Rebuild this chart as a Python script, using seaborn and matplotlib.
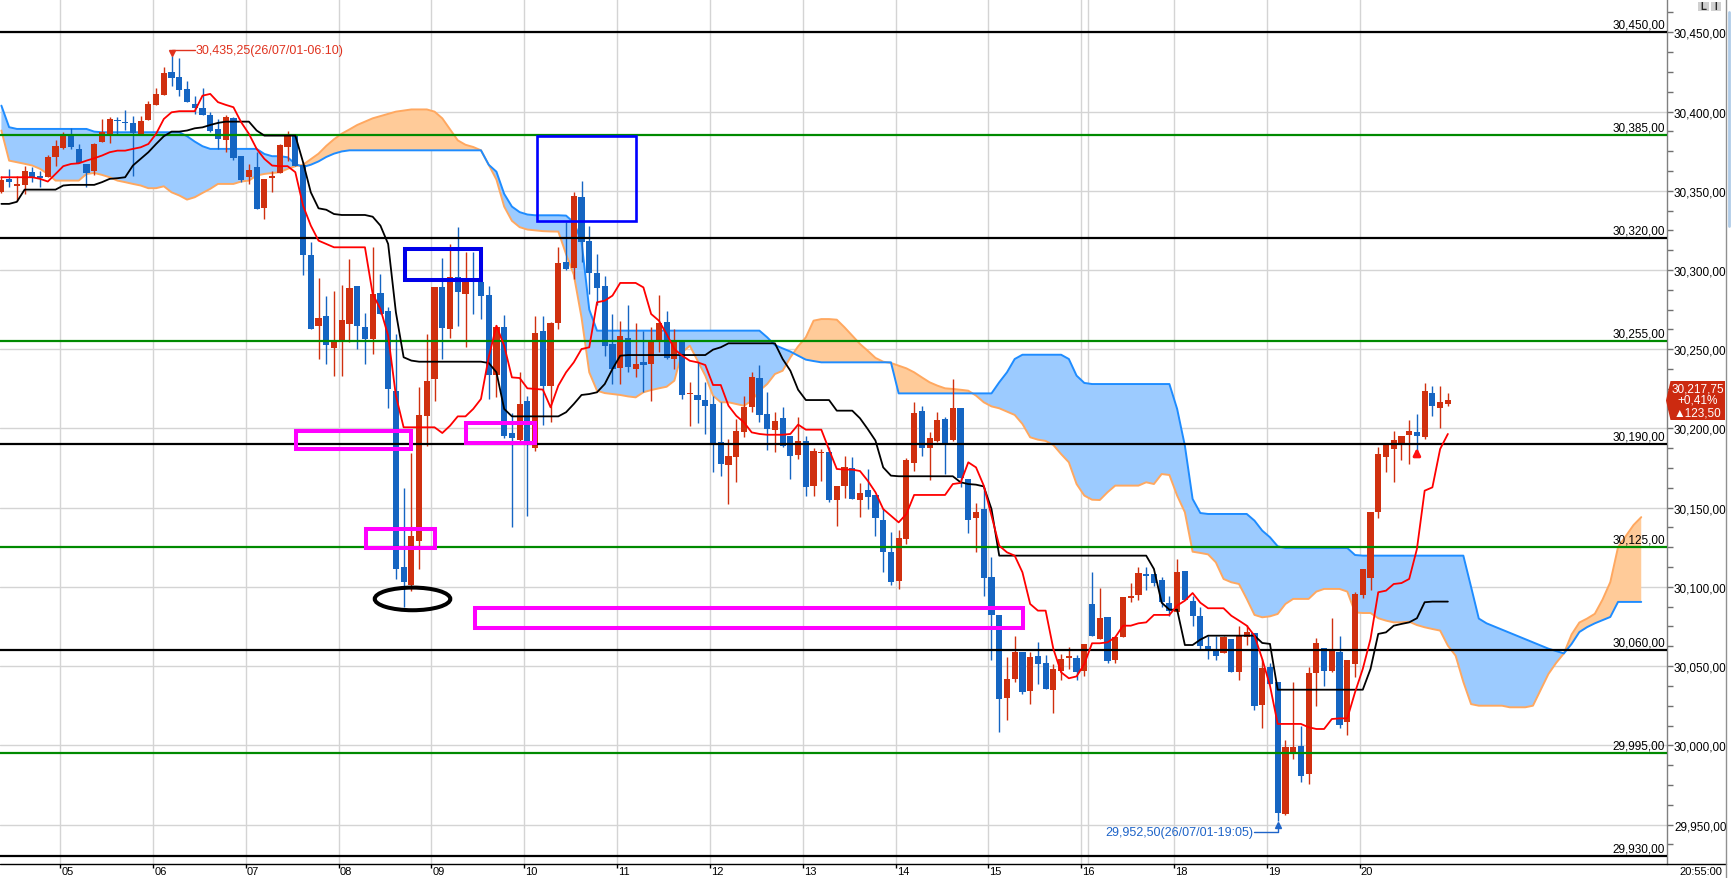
import numpy as np
import pandas as pd
import matplotlib
matplotlib.use("Agg")
import matplotlib.pyplot as plt
import matplotlib.transforms as mtransforms
from matplotlib.patches import Rectangle, Ellipse, Polygon
from matplotlib.ticker import MultipleLocator
import seaborn as sns

# ---------------- data (5-minute bars, index 0 = 04:20, last = 20:55) ----------------
bar_open = [
30349.0, 30357.5, 30353.3, 30353.9, 30361.7, 30359.6, 30358.9, 30371.6, 30377.0, 30384.4,
30376.4, 30366.9, 30362.7, 30381.0, 30385.9, 30394.7, 30393.6, 30392.8, 30385.9, 30394.9,
30404.2, 30410.7, 30425.0, 30421.8, 30414.3, 30404.8, 30402.1, 30397.9, 30389.0, 30382.3,
30395.7, 30372.2, 30358.9, 30364.8, 30339.2, 30357.9, 30361.2, 30377.9, 30384.4, 30366.0,
30309.4, 30264.5, 30271.2, 30250.8, 30254.3, 30265.9, 30289.7, 30263.8, 30256.4, 30285.5,
30273.9, 30223.6, 30112.8, 30101.2, 30129.2, 30208.1, 30231.2, 30289.5, 30262.7, 30295.3,
30284.8, 30294.3, 30292.6, 30284.2, 30233.7, 30263.8, 30197.1, 30192.9, 30217.5, 30187.4,
30261.3, 30226.6, 30266.5, 30304.8, 30301.0, 30345.8, 30318.0, 30298.1, 30290.1, 30253.3,
30238.3, 30256.8, 30237.5, 30241.7, 30240.6, 30254.3, 30267.3, 30243.8, 30254.3, 30221.5,
30221.1, 30217.9, 30215.4, 30191.2, 30177.1, 30182.2, 30197.9, 30213.3, 30231.6, 30209.1,
30199.2, 30206.4, 30195.4, 30183.4, 30191.8, 30163.9, 30184.3, 30184.9, 30155.0, 30163.9,
30174.8, 30155.0, 30161.1, 30158.0, 30142.2, 30121.8, 30103.9, 30130.2, 30178.2, 30211.2,
30187.6, 30192.3, 30205.9, 30192.7, 30212.9, 30168.1, 30143.5, 30149.1, 30106.0, 30082.3,
30029.9, 30041.9, 30059.1, 30034.5, 30056.6, 30052.0, 30034.9, 30047.1, 30055.4, 30054.9,
30047.1, 30089.2, 30067.1, 30081.2, 30054.1, 30068.2, 30092.8, 30095.1, 30108.1, 30108.1,
30104.3, 30089.8, 30084.4, 30110.2, 30091.3, 30081.8, 30062.9, 30059.3, 30058.1, 30067.1,
30046.1, 30068.6, 30070.7, 30025.5, 30049.2, 30039.8, 29956.7, 29995.6, 29999.8, 29981.9,
30045.7, 30061.2, 30047.1, 30059.1, 30014.5, 30051.3, 30095.1, 30105.6, 30147.5, 30181.8,
30187.0, 30190.2, 30196.1, 30198.0, 30194.4, 30222.4, 30212.9, 30215.4]

bar_high = [
30359.6, 30363.8, 30359.6, 30365.5, 30364.8, 30362.7, 30372.6, 30381.7, 30386.9, 30389.4,
30379.5, 30366.9, 30380.2, 30395.3, 30396.4, 30396.4, 30401.0, 30397.4, 30397.4, 30406.9,
30414.7, 30427.9, 30435.25, 30433.6, 30419.5, 30410.0, 30414.7, 30399.5, 30395.3, 30397.9,
30396.4, 30372.2, 30366.9, 30374.3, 30357.5, 30362.7, 30379.5, 30388.0, 30385.9, 30368.0,
30317.4, 30295.0, 30283.8, 30286.9, 30290.5, 30306.9, 30290.0, 30273.0, 30314.3, 30297.4,
30276.8, 30259.6, 30162.2, 30184.5, 30225.9, 30259.6, 30289.5, 30307.5, 30316.4, 30326.9,
30311.1, 30311.5, 30292.6, 30289.7, 30265.5, 30271.6, 30210.0, 30235.8, 30220.7, 30271.2,
30270.7, 30266.9, 30314.3, 30330.0, 30349.0, 30356.4, 30328.0, 30310.0, 30296.4, 30272.2,
30268.0, 30277.9, 30266.5, 30261.7, 30263.8, 30284.2, 30274.3, 30262.7, 30254.3, 30229.0,
30241.7, 30229.5, 30220.7, 30216.9, 30193.3, 30205.9, 30220.7, 30235.4, 30240.0, 30222.8,
30210.1, 30213.3, 30195.4, 30207.0, 30195.4, 30187.6, 30187.0, 30188.0, 30163.4, 30182.4,
30181.7, 30165.3, 30174.4, 30158.0, 30149.8, 30134.8, 30135.9, 30181.1, 30216.9, 30213.9,
30197.9, 30210.6, 30207.0, 30231.2, 30212.9, 30168.1, 30152.9, 30162.8, 30118.6, 30082.3,
30056.0, 30069.2, 30059.1, 30059.1, 30065.4, 30057.0, 30051.3, 30057.7, 30061.8, 30057.0,
30063.9, 30109.6, 30099.1, 30081.2, 30068.6, 30093.8, 30102.5, 30112.3, 30112.3, 30108.1,
30106.0, 30094.0, 30117.6, 30110.2, 30094.5, 30087.1, 30069.2, 30069.2, 30069.2, 30067.1,
30075.1, 30076.0, 30070.7, 30054.5, 30052.0, 30039.8, 30003.6, 30039.8, 30012.0, 30049.7,
30067.5, 30061.2, 30080.2, 30069.2, 30053.9, 30096.6, 30111.3, 30147.1, 30188.1, 30190.2,
30198.6, 30195.4, 30205.5, 30209.1, 30228.5, 30226.6, 30226.6, 30222.4]

bar_low = [
30348.6, 30352.2, 30343.8, 30348.0, 30355.4, 30352.2, 30358.9, 30365.9, 30376.4, 30376.4,
30367.6, 30352.2, 30360.0, 30380.6, 30380.2, 30385.2, 30388.6, 30359.6, 30385.2, 30394.9,
30404.2, 30410.7, 30415.9, 30410.0, 30405.9, 30398.5, 30398.1, 30387.0, 30376.4, 30374.3,
30369.7, 30355.4, 30354.3, 30338.5, 30332.2, 30349.5, 30361.2, 30369.0, 30365.9, 30296.8,
30262.7, 30243.8, 30240.6, 30233.3, 30233.3, 30254.3, 30250.0, 30240.6, 30247.0, 30272.0,
30212.7, 30105.0, 30087.1, 30097.6, 30111.3, 30189.1, 30217.5, 30243.8, 30256.9, 30264.8,
30251.2, 30272.2, 30269.0, 30218.5, 30219.6, 30194.0, 30137.6, 30191.2, 30144.5, 30185.9,
30202.2, 30204.3, 30263.0, 30300.0, 30294.3, 30304.8, 30284.8, 30278.1, 30245.9, 30228.0,
30228.0, 30235.4, 30232.2, 30223.2, 30217.5, 30248.0, 30243.8, 30237.5, 30218.5, 30201.7,
30203.4, 30196.5, 30172.7, 30170.2, 30152.3, 30166.0, 30194.4, 30210.1, 30203.8, 30186.6,
30184.9, 30188.1, 30168.1, 30180.7, 30157.6, 30157.6, 30167.0, 30153.3, 30138.2, 30156.1,
30155.4, 30143.9, 30149.1, 30132.3, 30109.2, 30101.2, 30098.7, 30127.0, 30173.3, 30182.4,
30167.7, 30191.6, 30171.2, 30192.3, 30162.8, 30134.0, 30122.2, 30094.5, 30054.1, 30008.6,
30016.0, 30040.2, 30032.4, 30026.1, 30038.7, 30035.6, 30020.4, 30041.4, 30048.2, 30041.4,
30044.0, 30068.8, 30067.1, 30052.0, 30052.0, 30068.2, 30090.7, 30091.9, 30098.2, 30100.8,
30087.1, 30081.4, 30084.4, 30091.9, 30075.5, 30060.8, 30054.5, 30054.1, 30058.1, 30046.1,
30041.2, 30063.3, 30022.5, 30010.7, 30038.7, 29952.5, 29956.1, 29991.4, 29977.1, 29975.6,
30024.6, 30037.7, 30046.5, 30010.7, 30006.5, 30042.9, 30092.8, 30098.0, 30143.3, 30172.3,
30166.4, 30180.3, 30177.6, 30183.9, 30193.3, 30208.0, 30200.3, 30214.4]

bar_close = [
30356.8, 30355.4, 30354.3, 30362.5, 30357.9, 30358.3, 30371.3, 30378.5, 30385.9, 30377.9,
30367.6, 30361.0, 30379.3, 30386.9, 30395.3, 30393.9, 30392.6, 30386.3, 30394.1, 30404.8,
30411.1, 30424.4, 30421.4, 30413.8, 30405.9, 30402.3, 30398.1, 30388.0, 30382.7, 30396.4,
30370.5, 30356.8, 30363.1, 30338.5, 30357.5, 30359.1, 30378.9, 30385.9, 30365.9, 30309.4,
30262.7, 30269.5, 30252.9, 30254.7, 30268.4, 30288.6, 30264.8, 30256.4, 30284.8, 30272.2,
30224.9, 30111.3, 30102.9, 30131.9, 30208.5, 30230.1, 30289.5, 30263.4, 30295.8, 30286.3,
30292.6, 30293.2, 30283.8, 30233.7, 30263.8, 30195.4, 30193.7, 30215.4, 30191.2, 30260.2,
30226.6, 30266.5, 30304.2, 30300.6, 30346.5, 30317.8, 30298.1, 30288.6, 30252.2, 30237.5,
30258.1, 30238.5, 30240.6, 30240.0, 30255.8, 30266.5, 30244.4, 30254.3, 30221.1, 30221.7,
30218.1, 30214.3, 30190.2, 30177.5, 30182.4, 30198.1, 30213.3, 30232.2, 30208.5, 30199.6,
30204.9, 30188.7, 30182.8, 30192.3, 30163.2, 30185.5, 30185.3, 30155.0, 30163.4, 30175.4,
30155.4, 30159.0, 30156.9, 30143.3, 30122.2, 30103.3, 30130.8, 30180.3, 30209.7, 30187.6,
30193.9, 30205.3, 30190.8, 30212.9, 30168.5, 30142.2, 30147.5, 30105.6, 30082.3, 30029.2,
30041.9, 30059.1, 30033.9, 30056.0, 30051.3, 30035.6, 30048.2, 30054.7, 30055.8, 30046.5,
30063.9, 30068.8, 30080.2, 30053.4, 30068.6, 30093.8, 30094.5, 30108.8, 30107.1, 30102.4,
30090.2, 30084.6, 30109.2, 30091.9, 30081.4, 30062.9, 30059.7, 30056.6, 30068.6, 30046.1,
30069.2, 30071.7, 30025.1, 30048.6, 30038.7, 29957.3, 29998.7, 29999.2, 29980.5, 30045.7,
30064.4, 30047.1, 30059.3, 30012.9, 30053.9, 30095.5, 30111.3, 30147.1, 30183.9, 30190.2,
30192.7, 30195.4, 30198.6, 30195.4, 30223.4, 30214.4, 30216.9, 30217.75]

tenkan = ([30358.5] * 5 +
    [30357.5, 30355.8, 30360.6, 30365.5, 30366.9, 30367.3, 30369.0, 30370.5, 30372.2, 30374.3,
     30375.3, 30375.3, 30376.4, 30377.4, 30379.5, 30385.9, 30395.3, 30399.5, 30400.2, 30400.2,
     30400.2, 30410.0, 30411.1, 30405.9, 30404.2, 30402.7, 30393.2, 30385.9, 30376.4, 30370.1,
     30365.9, 30365.5, 30365.5, 30361.7] +
    [30340.6, 30328.0, 30318.5, 30316.4] + [30314.3] * 5 +
    [30284.8, 30275.4, 30258.5, 30220.7] + [30200.7] * 5 +
    [30197.1, 30201.7, 30207.6, 30207.6, 30212.3, 30218.6, 30245.0, 30264.8, 30252.2, 30232.2,
     30231.8, 30225.3, 30224.9, 30224.5, 30213.3, 30227.0, 30235.4, 30241.7, 30250.1, 30251.2,
     30279.6, 30280.6, 30283.8] + [30291.8] * 3 +
    [30289.0, 30272.2, 30268.0, 30259.6, 30250.1, 30245.9, 30242.7, 30241.7, 30240.0, 30227.4,
     30227.4, 30214.3, 30208.0, 30203.8, 30197.5, 30196.5] + [30196.0] * 3 +
    [30196.5, 30202.4] + [30199.2] * 3 +
    [30186.6, 30174.4, 30174.0, 30174.0, 30173.1, 30167.0, 30159.7, 30149.1, 30144.9, 30140.7,
     30146.0] + [30158.0] * 5 +
    [30164.9, 30165.6, 30178.6, 30175.4, 30163.9, 30145.0, 30126.0, 30121.8, 30119.7, 30109.2,
     30089.2, 30085.0, 30085.0, 30060.8, 30046.1, 30042.3, 30043.5, 30051.3, 30064.4, 30064.4,
     30065.0, 30068.2, 30075.5, 30075.5, 30077.0, 30077.6] + [30082.3] * 3 +
    [30088.2, 30091.3, 30096.1, 30090.0] + [30086.5] * 3 +
    [30081.8, 30078.7, 30075.5, 30069.2, 30054.5, 30037.7] + [30013.5] * 4 +
    [30011.4, 30010.3, 30010.3, 30016.6, 30017.0, 30017.0, 30033.5, 30048.2, 30067.1, 30096.6,
     30097.6, 30101.8, 30102.4, 30105.0, 30123.9, 30160.7, 30162.8, 30187.0, 30196.5])

kijun = ([30341.7, 30341.7, 30343.0] + [30350.7] * 5 + [30353.3] + [30353.7] * 4 +
    [30355.4, 30357.5, 30357.9, 30358.5, 30365.9, 30370.1, 30374.3, 30379.5, 30384.4, 30387.3,
     30387.3, 30388.0, 30389.4, 30390.0, 30391.5, 30392.8] + [30393.6] * 4 + [30388.0] +
    [30384.8] * 5 + [30368.0, 30349.0, 30338.9, 30338.0, 30335.3] + [30334.7] * 4 +
    [30333.6, 30328.0, 30316.4, 30273.3, 30244.9, 30242.8] + [30242.1] * 9 +
    [30241.3, 30235.4, 30212.3] + [30207.6] * 7 +
    [30210.2, 30215.4, 30221.1, 30221.7, 30222.8, 30228.0, 30237.5, 30245.9] + [30246.3] * 11 +
    [30249.7, 30251.2] + [30253.7] * 7 + [30243.8, 30236.4, 30224.4] + [30217.9] * 4 +
    [30211.2] * 3 + [30206.4, 30199.6, 30192.3, 30175.4, 30170.2] + [30169.8] * 8 +
    [30166.0, 30164.9, 30164.5, 30163.4, 30149.1] + [30119.7] * 20 +
    [30111.3, 30090.0, 30085.6, 30085.6, 30063.3, 30063.3, 30066.7] + [30069.2] * 7 +
    [30064.6, 30064.0] + [30035.1] * 12 +
    [30048.2, 30070.3, 30071.3, 30075.5, 30076.6, 30077.6, 30080.2, 30090.3] + [30090.7] * 3)

span_a = ([30403.7, 30390.1] + [30389.0] * 10 + [30387.3] + [30386.9] * 11 +
    [30384.4, 30381.0, 30378.1] + [30376.4] * 7 + [30373.2, 30371.8, 30371.8, 30371.1, 30366.9] +
    [30365.0, 30366.4, 30368.5, 30371.3, 30373.4, 30374.8] + [30375.5] * 18 +
    [30366.4, 30362.0, 30348.0, 30340.0, 30336.5, 30335.0] + [30334.5] * 4 +
    [30334.3, 30330.0, 30318.0, 30275.0] + [30261.7] * 22 +
    [30257.5, 30252.6, 30250.5, 30248.5, 30245.9, 30243.4, 30242.5] + [30241.7] * 10 +
    [30222.1] * 13 + [30229.1, 30235.4, 30243.8] + [30246.5] * 6 + [30243.8, 30233.3, 30228.7] +
    [30228.0] * 11 + [30212.3, 30189.1, 30155.5, 30146.6] + [30146.0] * 6 +
    [30141.8, 30135.5, 30131.3, 30125.6] + [30124.5] * 9 + [30120.1] + [30119.7] * 14 +
    [30100.0, 30080.0, 30077.0, 30075.0, 30073.0, 30071.0, 30069.0, 30067.0, 30065.0, 30063.0,
     30061.0, 30059.5, 30058.0, 30064.0, 30071.5, 30074.6, 30077.0, 30079.0, 30081.0] +
    [30090.5] * 4)

span_b = ([30388.0, 30369.0, 30368.0, 30367.0, 30365.9, 30363.8, 30360.6] + [30356.4] * 4 +
    [30360.6, 30361.2, 30360.0, 30358.5, 30356.4, 30355.4, 30354.3, 30353.3, 30351.6, 30351.6,
     30352.8, 30349.0, 30347.0, 30344.4, 30345.9, 30348.6, 30351.2] + [30354.3] * 3 +
    [30355.8, 30356.4, 30359.6, 30360.6, 30361.2, 30361.7, 30363.8, 30365.5, 30366.4, 30369.9,
     30373.4, 30378.3, 30382.5, 30386.0, 30388.7, 30391.5, 30393.6, 30395.7, 30397.1, 30398.5,
     30399.9, 30400.6] + [30401.3] * 3 +
    [30399.9, 30395.7, 30388.7, 30381.8, 30379.0, 30377.6, 30375.5, 30366.4, 30357.0, 30340.0,
     30331.0, 30327.0, 30325.5, 30325.0, 30324.5, 30324.3, 30324.2, 30310.0, 30297.0, 30270.0,
     30235.4, 30223.8, 30222.3, 30221.7, 30221.1, 30220.2, 30219.6, 30222.8, 30224.2, 30225.3,
     30226.3, 30230.1, 30248.0, 30252.2, 30242.7, 30233.3, 30220.7, 30216.5, 30216.5, 30215.4,
     30214.3, 30217.5, 30223.8, 30228.0, 30234.3, 30236.4, 30244.8, 30251.8, 30257.5, 30268.0,
     30269.0, 30269.0, 30268.6, 30263.8, 30258.5, 30253.3, 30249.0, 30244.5, 30242.1, 30241.3,
     30239.6, 30237.9, 30235.4, 30232.2, 30229.1, 30227.0, 30225.3, 30224.9, 30224.4, 30223.8,
     30220.7, 30216.5, 30213.9, 30212.7, 30210.6, 30208.5, 30202.8, 30194.4, 30192.9, 30192.1,
     30189.5, 30183.8, 30178.6, 30164.9, 30157.6, 30155.0, 30154.8, 30159.7] + [30163.9] * 4 +
    [30166.0, 30164.9, 30171.2, 30170.6, 30157.6, 30147.1, 30122.2, 30121.4, 30120.5, 30115.5,
     30105.0, 30102.9, 30101.8, 30092.4, 30082.3, 30080.8, 30081.4, 30082.9, 30089.2] +
    [30092.4] * 3 + [30097.0] + [30098.7] * 3 +
    [30097.0, 30083.9, 30083.5, 30083.5, 30080.2, 30078.7, 30077.6, 30077.6, 30078.0, 30075.9,
     30074.5, 30073.4, 30072.4, 30062.9, 30056.6, 30040.0, 30026.0] + [30025.0] * 4 +
    [30024.0] * 3 +
    [30025.0, 30035.0, 30045.0, 30052.0, 30058.0, 30070.0, 30077.5, 30080.0, 30083.0, 30092.0,
     30103.0, 30125.0, 30132.0, 30139.0, 30144.0])

hour_labels = ["05", "06", "07", "08", "09", "10", "11", "12", "13", "14", "15", "16", "18", "19", "20"]
hour_bar_index = [8, 20, 32, 44, 56, 68, 80, 92, 104, 116, 128, 140, 152, 164, 176]
level_black = [30450, 30320, 30190, 30060, 29930]
level_green = [30385, 30255, 30125, 29995]
y_ticks = [29950, 30000, 30050, 30100, 30150, 30200, 30250, 30300, 30350, 30400, 30450]
last_price_lines = ["30,217,75", "+0,41%", "\u25b2123,50"]
high_note = "30,435,25(26/07/01-06:10)"
low_note = "29,952,50(26/07/01-19:05)"
last_time = "20:55:00"


def fmt(v):
    return f"{v:,.2f}".replace(".", ",")


# ---------------- figure ----------------
sns.set_theme(style="white")
plt.rcParams['font.family'] = ['Liberation Sans', 'DejaVu Sans']

W, H = 1732, 879
fig = plt.figure(figsize=(W / 100, H / 100), dpi=100)
fig.patch.set_facecolor('white')
ax = fig.add_axes([0, 14 / H, 1667 / W, 865 / H])
ax.set_facecolor('white')
ax.set_xlim(-0.18, 215.33)
ax.set_ylim(29925.1, 30471.0)

UP, DOWN = '#d0300f', '#1565c2'
o = np.array(bar_open); hh = np.array(bar_high); ll = np.array(bar_low); c = np.array(bar_close)
nb = min(len(o), len(hh), len(ll), len(c))
o, hh, ll, c = o[:nb], hh[:nb], ll[:nb], c[:nb]
xs = np.arange(nb)
cols = np.where(c >= o, UP, DOWN)

# cloud
A = np.array(span_a); B = np.array(span_b)
m = min(len(A), len(B)); A = A[:m]; B = B[:m]
kx = np.arange(m)
ax.fill_between(kx, A, B, where=A >= B, interpolate=True, color='#9ccbff', lw=0, zorder=1)
ax.fill_between(kx, A, B, where=B > A, interpolate=True, color='#ffcb99', lw=0, zorder=1)
sns.lineplot(x=kx, y=B, ax=ax, color='#ffa860', linewidth=1.4, sort=False, estimator=None, zorder=2)
sns.lineplot(x=kx, y=A, ax=ax, color='#1e8cff', linewidth=1.4, sort=False, estimator=None, zorder=2)

# candles
ax.vlines(xs, ll, hh, colors=cols, linewidth=1.0, zorder=3)
ax.bar(xs, np.maximum(np.abs(c - o), 0.8), bottom=np.minimum(o, c), width=0.8,
       color=cols, linewidth=0, zorder=3)

# level lines
blend = mtransforms.blended_transform_factory(ax.transAxes, ax.transData)
for v in level_black:
    ax.axhline(v, color='black', linewidth=1.6, zorder=3.5)
for v in level_green:
    ax.axhline(v, color='#008a00', linewidth=1.6, zorder=3.5)
for v in level_black + level_green:
    ax.text(1 - 2 / 1667, v + 0.9, fmt(v), transform=blend, ha='right', va='bottom',
            fontsize=8.5, color='black', zorder=6)

# tenkan / kijun
t = np.array(tenkan); k = np.array(kijun)
sns.lineplot(x=np.arange(len(k)), y=k, ax=ax, color='black', linewidth=1.3,
             sort=False, estimator=None, zorder=4)
sns.lineplot(x=np.arange(len(t)), y=t, ax=ax, color='#ff0000', linewidth=1.3,
             sort=False, estimator=None, zorder=4)

# grid / axes
ax.set_axisbelow(True)
ax.yaxis.tick_right()
ax.set_yticks(y_ticks)
ax.set_yticklabels([fmt(v) for v in y_ticks])
ax.yaxis.set_minor_locator(MultipleLocator(12.5))
ax.tick_params(axis='y', which='both', right=True, left=False, direction='out', length=4,
               width=1, color='#707070', labelcolor='black', labelsize=8.5, pad=1)
tick_pos = [i - 0.4 for i in hour_bar_index]
ax.set_xticks(tick_pos)
ax.tick_params(axis='x', direction='out', length=3, width=1, color='black',
               labelbottom=False, bottom=True)
xblend = mtransforms.blended_transform_factory(ax.transData, ax.transAxes)
for xp, lab in zip(tick_pos, hour_labels):
    ax.text(xp + 0.15, -10.5 / 865, lab, transform=xblend, ha='left', va='baseline',
            fontsize=8, color='black', clip_on=False)
ax.grid(True, axis='both', which='major', color='#d4d4d4', linewidth=1)
ax.axvline(140.5, color='#d4d4d4', linewidth=1, zorder=0.5)
for s in ['top', 'left', 'bottom']:
    ax.spines[s].set_visible(False)
ax.spines['right'].set_color('#808080')
ax.spines['right'].set_linewidth(1)
ax.set_xlabel(''); ax.set_ylabel('')

# drawn boxes
MAG = '#ff00ff'
for (x0, x1, y0, y1) in [(38.1, 53.0, 30187.2, 30198.4), (47.1, 56.0, 30124.8, 30136.4),
                         (60.1, 69.0, 30190.8, 30203.6), (61.2, 132.1, 30074.3, 30086.9)]:
    ax.add_patch(Rectangle((x0, y0), x1 - x0, y1 - y0, fill=False, edgecolor=MAG,
                           linewidth=2.9, zorder=6))
ax.add_patch(Rectangle((69.2, 30330.9), 82.0 - 69.2, 30384.6 - 30330.9, fill=False,
                       edgecolor='#0000ff', linewidth=1.9, zorder=6))
ax.add_patch(Rectangle((52.2, 30293.9), 62.0 - 52.2, 30313.1 - 30293.9, fill=False,
                       edgecolor='#0000e8', linewidth=2.9, zorder=6))
ax.add_patch(Ellipse((53.15, 30092.4), 9.77, 14.3, fill=False, edgecolor='black',
                     linewidth=2.9, zorder=6))

# high / low notes
RED_T, BLUE_T = '#e0321e', '#1e64c8'
ax.plot([22, 22, 25.0], [30436.8, 30439.0, 30439.0], color=RED_T, linewidth=1, zorder=6)
ax.plot([22], [30437.0], marker='v', color=RED_T, markersize=5, zorder=6)
ax.text(25.1, 30439.0, high_note, color=RED_T, fontsize=9, ha='left', va='center', zorder=6)
ax.plot([162.0, 165, 165], [29945.3, 29945.3, 29949.8], color=BLUE_T, linewidth=1, zorder=6)
ax.plot([165], [29950.0], marker='^', color=BLUE_T, markersize=5, zorder=6)
ax.text(161.9, 29945.3, low_note, color=BLUE_T, fontsize=9, ha='right', va='center', zorder=6)
ax.annotate('', xy=(183, 30189.5), xytext=(183, 30180.5),
            arrowprops=dict(arrowstyle='-|>', color='#ff1010', lw=2.2, mutation_scale=10),
            zorder=6)

# overlay in pixel space for frame items
ov = fig.add_axes([0, 0, 1, 1], zorder=10)
ov.set_xlim(0, W); ov.set_ylim(H, 0); ov.axis('off')
ov.plot([0, 1726], [865, 865], color='black', linewidth=1)
ov.plot([1726, 1726], [0, H], color='#909090', linewidth=1)
ov.plot([1729, 1729], [13, 227], color='#b0cce8', linewidth=2)
ov.add_patch(Polygon([(1666, 401.5), (1670.5, 382), (1725, 382), (1725, 421), (1670.5, 421)],
                     closed=True, facecolor='#cc2a10', edgecolor='none'))
for yy, s in zip([389.5, 401, 413.5], last_price_lines):
    ov.text(1697.5, yy, s, color='white', fontsize=8.5, ha='center', va='center')
ov.add_patch(Rectangle((1698, 3), 11, 9, facecolor='#d0d0d0', edgecolor='none'))
ov.add_patch(Rectangle((1711, 3), 10, 9, facecolor='#d0d0d0', edgecolor='none'))
ov.text(1703.5, 7.5, "L", fontsize=7, fontweight='bold', ha='center', va='center')
ov.text(1716, 7.5, "I", fontsize=7, fontweight='bold', ha='center', va='center')
ov.text(1722, 875.5, last_time, fontsize=8, ha='right', va='baseline', color='black')

fig.savefig('out.png', dpi=100, facecolor='white')
